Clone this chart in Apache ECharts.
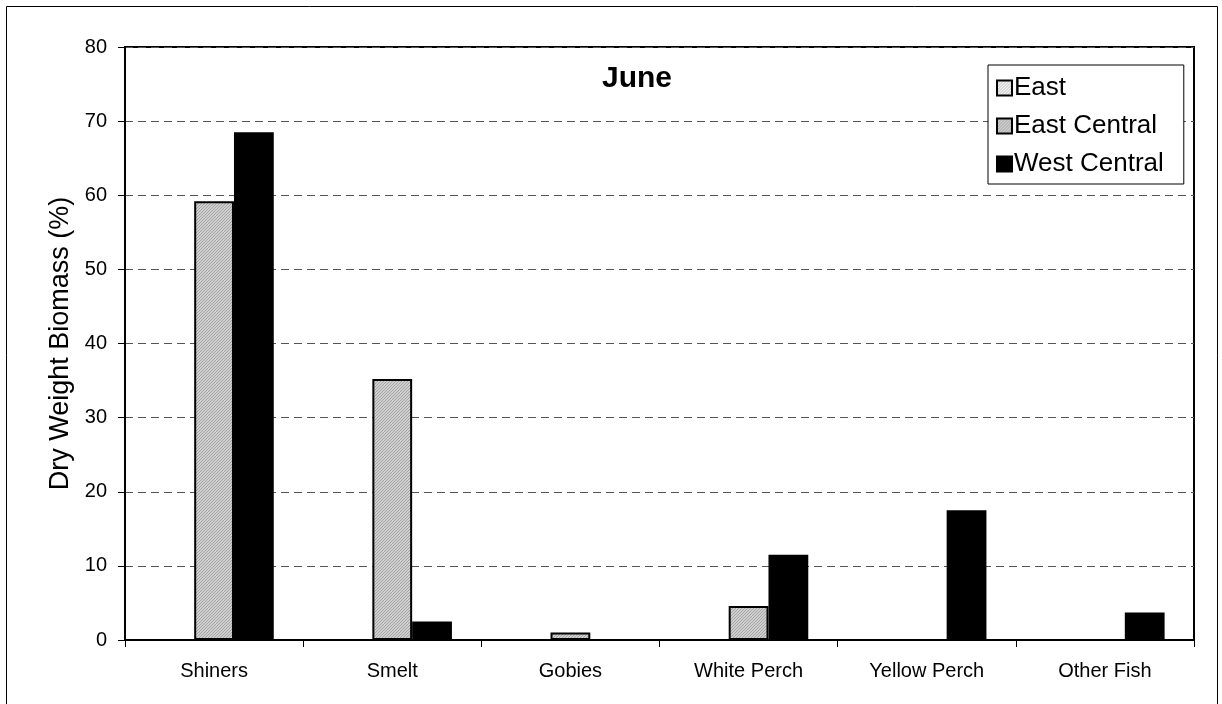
<!DOCTYPE html>
<html>
<head>
<meta charset="utf-8">
<script src="https://cdn.jsdelivr.net/npm/echarts@6/dist/echarts.min.js"></script>
<style>
  html, body { margin: 0; padding: 0; background: #fff; }
  #chart { width: 1222px; height: 704px; }
</style>
</head>
<body>
<div id="chart"></div>
<script>
// Diet composition by prey type, June
const categories = ['Shiners', 'Smelt', 'Gobies', 'White Perch', 'Yellow Perch', 'Other Fish'];
const eastValues = [0, 0, 0, 0, 0, 0];
const eastCentralValues = [59.2, 35.2, 1.0, 4.6, 0, 0];
const westCentralValues = [68.5, 2.5, 0, 11.5, 17.5, 3.7];
const yTicks = [0, 10, 20, 30, 40, 50, 60, 70, 80];

// Fill patterns drawn on small canvases
function hatchPattern() {
  const c = document.createElement('canvas');
  c.width = 3; c.height = 3;
  const g = c.getContext('2d');
  g.fillStyle = '#cfcfcf';
  g.fillRect(0, 0, 3, 3);
  g.fillStyle = '#a4a4a4';
  for (let i = 0; i < 3; i++) g.fillRect(i, 2 - i, 1, 1);
  return c;
}
function dotPattern() {
  const c = document.createElement('canvas');
  c.width = 3; c.height = 3;
  const g = c.getContext('2d');
  g.fillStyle = '#f4f4f4';
  g.fillRect(0, 0, 3, 3);
  g.fillStyle = '#bdbdbd';
  g.fillRect(0, 0, 1, 1);
  g.fillRect(2, 1, 1, 1);
  g.fillRect(1, 2, 1, 1);
  return c;
}

const chart = echarts.init(document.getElementById('chart'), null, { renderer: 'canvas' });
const font = 'Arial, "Liberation Sans", Helvetica, sans-serif';

const barBorder = { borderColor: '#000', borderWidth: 2 };

chart.setOption({
  animation: false,
  backgroundColor: '#fff',
  title: {
    text: 'June',
    left: 632, top: 59,
    textAlign: 'center',
    textStyle: { fontFamily: font, fontSize: 30, fontWeight: 'bold', color: '#000' }
  },
  legend: {
    orient: 'vertical',
    left: 988, top: 65,
    padding: [10, 20, 7, 8],
    itemGap: 12,
    itemWidth: 15, itemHeight: 15,
    icon: 'rect',
    backgroundColor: '#fff',
    borderColor: '#000',
    borderWidth: 1,
    textStyle: { fontFamily: font, fontSize: 26, color: '#000', padding: [0, 0, 0, -3] },
    data: ['East', 'East Central', 'West Central']
  },
  grid: {
    left: 125, right: 28, top: 47, bottom: 64,
    show: true, borderColor: '#000', borderWidth: 2, backgroundColor: 'transparent'
  },
  xAxis: {
    type: 'category',
    data: categories,
    axisLine: { lineStyle: { color: '#000', width: 2 } },
    axisTick: { show: true, length: 7, lineStyle: { color: '#000', width: 1 } },
    axisLabel: { fontFamily: font, fontSize: 20, color: '#000', margin: 21 }
  },
  yAxis: {
    type: 'value',
    min: yTicks[0], max: yTicks[yTicks.length - 1], interval: 10,
    name: 'Dry Weight Biomass (%)',
    nameLocation: 'middle',
    nameGap: 51,
    nameTextStyle: { fontFamily: font, fontSize: 27, color: '#000' },
    axisLine: { show: true, lineStyle: { color: '#000', width: 2 } },
    axisTick: { show: true, length: 7, lineStyle: { color: '#000', width: 1 } },
    axisLabel: { fontFamily: font, fontSize: 20, color: '#000', margin: 18 },
    splitLine: { show: true, lineStyle: { color: '#555', width: 1, type: [8, 5] } }
  },
  series: [
    {
      name: 'East', type: 'bar', data: eastValues,
      barGap: '0%', barCategoryGap: '33%',
      itemStyle: Object.assign({ color: { image: dotPattern(), repeat: 'repeat' } }, barBorder)
    },
    {
      name: 'East Central', type: 'bar', data: eastCentralValues,
      itemStyle: Object.assign({ color: { image: hatchPattern(), repeat: 'repeat' } }, barBorder)
    },
    {
      name: 'West Central', type: 'bar', data: westCentralValues,
      itemStyle: Object.assign({ color: '#000' }, barBorder)
    }
  ],
  graphic: [{
    type: 'rect',
    shape: { x: 6.5, y: 6.5, width: 1211, height: 710 },
    style: { fill: 'none', stroke: '#000', lineWidth: 1 },
    silent: true, z: -1
  }]
});
</script>
</body>
</html>
